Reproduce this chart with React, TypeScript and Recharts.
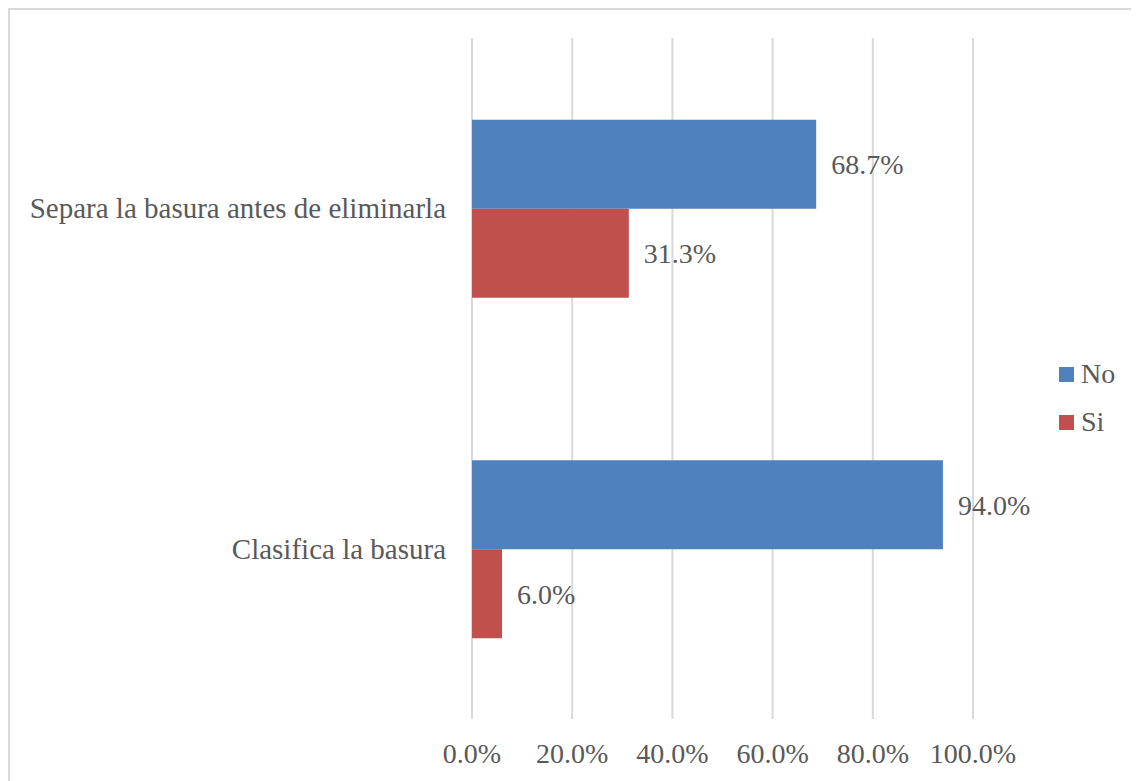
import React from 'react';
import { BarChart, Bar, XAxis, YAxis, CartesianGrid, LabelList } from 'recharts';

const categories = ['Separa la basura antes de eliminarla', 'Clasifica la basura'];
const noValues = [68.7, 94.0];
const siValues = [31.3, 6.0];
const xTicks = [0, 20, 40, 60, 80, 100];

const seriesNames = ['No', 'Si'];
const colors = ['#4F81BD', '#C0504D'];

const FONT = '"Liberation Serif", "Times New Roman", serif';
const TEXT = '#595959';

const data = categories.map((name, i) => ({ name, No: noValues[i], Si: siValues[i] }));

const XTick = (props: any) => {
  const { x, y, payload } = props;
  return (
    <text x={x} y={y + 26} textAnchor="middle" dominantBaseline="central" fill={TEXT} style={{ fontSize: 28, fontFamily: FONT }}>
      {payload.value.toFixed(1)}%
    </text>
  );
};

const YTick = (props: any) => {
  const { x, y, payload } = props;
  return (
    <text x={x - 18} y={y} textAnchor="end" dominantBaseline="central" fill={TEXT} style={{ fontSize: 29, fontFamily: FONT }}>
      {payload.value}
    </text>
  );
};

const App: React.FC = () => {
  // the chart fills the window edge to edge; keep the page from scrolling
  React.useLayoutEffect(() => {
    document.documentElement.style.overflow = 'hidden';
    document.body.style.overflow = 'hidden';
  }, []);

  return (
    <div
      style={{
        position: 'relative',
        width: 1135,
        height: 771,
        borderTop: '2px solid #d9d9d9',
        borderLeft: '2px solid #d9d9d9',
      }}
    >
      <BarChart
        width={1129}
        height={771}
        data={data}
        layout="vertical"
        margin={{ top: 28, right: 166, bottom: 0, left: 0 }}
        barCategoryGap="24%"
        barGap={0}
      >
        <CartesianGrid horizontal={false} stroke="#d9d9d9" strokeWidth={2} />
        <XAxis
          type="number"
          domain={[0, 100]}
          ticks={xTicks}
          axisLine={false}
          tickLine={false}
          tick={<XTick />}
          height={62}
          interval={0}
        />
        <YAxis
          type="category"
          dataKey="name"
          width={462}
          axisLine={false}
          tickLine={false}
          tick={<YTick />}
        />
        {seriesNames.map((s, i) => (
          <Bar key={s} dataKey={s} fill={colors[i]} isAnimationActive={false}>
            <LabelList
              dataKey={s}
              position="right"
              offset={15}
              fill={TEXT}
              style={{ fontSize: 28, fontFamily: FONT }}
              formatter={(v: any) => `${Number(v).toFixed(1)}%`}
            />
          </Bar>
        ))}
      </BarChart>
      <div style={{ position: 'absolute', left: 1049, top: 340, fontFamily: FONT, fontSize: 28, color: TEXT }}>
        {seriesNames.map((s, i) => (
          <div key={s} style={{ display: 'flex', alignItems: 'center', height: 48 }}>
            <span style={{ width: 15, height: 15, background: colors[i], display: 'inline-block', marginRight: 7 }} />
            <span>{s}</span>
          </div>
        ))}
      </div>
    </div>
  );
};

export default App;
